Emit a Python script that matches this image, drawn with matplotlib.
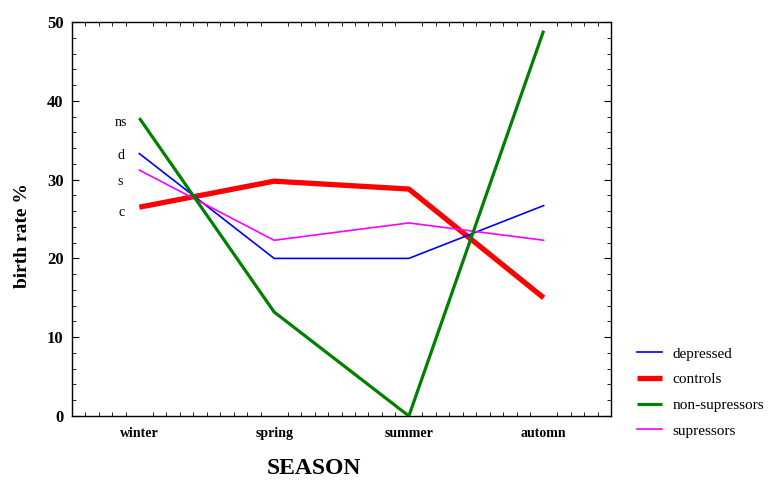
import matplotlib
matplotlib.use("Agg")
import matplotlib.pyplot as plt
from matplotlib.ticker import MultipleLocator

seasons = ["winter", "spring", "summer", "automn"]
depressed = [33.3, 20.0, 20.0, 26.7]
controls = [26.5, 29.8, 28.8, 15.0]
non_supressors = [37.8, 13.2, 0.0, 48.9]
supressors = [31.2, 22.3, 24.5, 22.3]
start_labels = ["ns", "d", "s", "c"]
start_label_y = [37.2, 33.0, 29.8, 25.8]

plt.rcParams['font.family'] = ['Liberation Serif', 'DejaVu Serif']

fig = plt.figure(figsize=(7.75, 4.91), dpi=100)
ax = fig.add_axes([72/775, 1-416/491, (611-72)/775, (416-22)/491])

x = list(range(len(seasons)))
l_c, = ax.plot(x, controls, color=(1, 0, 0), lw=3.8, label="controls", zorder=2, solid_capstyle='butt')
l_d, = ax.plot(x, depressed, color=(0, 0, 1), lw=1.2, label="depressed", zorder=3)
l_s, = ax.plot(x, supressors, color=(1, 0, 1), lw=1.2, label="supressors", zorder=4)
l_n, = ax.plot(x, non_supressors, color=(0, 0.5, 0), lw=2.3, label="non-supressors", zorder=5, solid_capstyle='butt')

offsets = [-0.09, -0.11, -0.12, -0.11]
for lab, yv, dx in zip(start_labels, start_label_y, offsets):
    ax.text(dx, yv, lab, ha='right', va='center', fontsize=10)

ax.set_xlim(-0.5, 3.5)
ax.set_ylim(0, 50)
ax.set_xticks(x)
ax.set_xticklabels(seasons, fontsize=10, fontweight='bold', va='baseline')
ax.set_yticks([0, 10, 20, 30, 40, 50])
ax.set_yticklabels(["0", "10", "20", "30", "40", "50"], fontsize=12, fontweight='bold')
ax.xaxis.set_minor_locator(MultipleLocator(0.1))
ax.yaxis.set_minor_locator(MultipleLocator(2))
ax.tick_params(axis='both', which='both', direction='in', top=True, right=True)
ax.tick_params(axis='x', which='major', length=0, pad=15)
ax.tick_params(axis='x', which='minor', length=3)
ax.tick_params(axis='y', which='major', length=5, pad=6)
ax.tick_params(axis='y', which='minor', length=3)
for s in ax.spines.values():
    s.set_linewidth(1.0)

ax.set_xlabel("SEASON", fontsize=17, fontweight='bold')
ax.xaxis.set_label_coords((314-72)/539, (416-469)/394)
ax.xaxis.label.set_va('center')
ax.set_ylabel("birth rate %", fontsize=14, fontweight='bold')
ax.yaxis.set_label_coords((22-72)/539, (416-236)/394)
ax.yaxis.label.set_va('center')

leg = fig.legend(handles=[l_d, l_c, l_n, l_s], loc='upper left',
                 bbox_to_anchor=(631/775, 1-341/491), frameon=False,
                 fontsize=11, handlelength=1.64, handletextpad=0.65,
                 labelspacing=0.78, borderaxespad=0)

fig.savefig("out.png", dpi=100)
